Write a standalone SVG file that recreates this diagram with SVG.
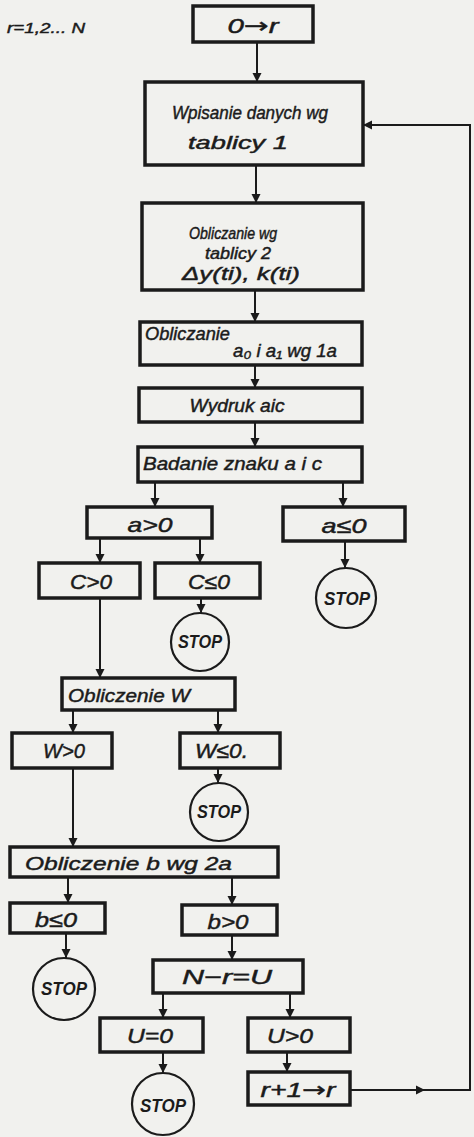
<svg xmlns="http://www.w3.org/2000/svg" width="474" height="1137" viewBox="0 0 474 1137">
<defs>
<style>
.box{fill:none;stroke:#1b1b1b;stroke-width:3.5}
.stop{fill:none;stroke:#1b1b1b;stroke-width:2.2}
.t{font-family:"Liberation Sans",Arial,sans-serif;font-style:italic;font-size:18px;fill:#1b1b1b;stroke:#1b1b1b;stroke-width:0.45}
.m{text-anchor:middle}
.big{font-size:21px}
.sm{font-size:16px}
.st{font-family:"Liberation Sans",Arial,sans-serif;font-style:italic;font-weight:bold;font-size:18px;fill:#1b1b1b;text-anchor:middle}
.c{fill:none;stroke:#1b1b1b;stroke-width:2}
</style>
<marker id="ah" viewBox="0 0 10 10" refX="10" refY="5" markerWidth="9" markerHeight="10" markerUnits="userSpaceOnUse" orient="auto">
<path d="M0,0 L10,5 L0,10 z" fill="#1b1b1b"/>
</marker>
</defs>
<rect width="474" height="1137" fill="#f1f1ee"/>
<text class="t" x="7" y="33" style="font-size:15px" textLength="78" lengthAdjust="spacingAndGlyphs">r=1,2... N</text>

<g id="connectors">
<line class="c" x1="257" y1="42" x2="257" y2="82" marker-end="url(#ah)"/>
<line class="c" x1="256" y1="165" x2="256" y2="203" marker-end="url(#ah)"/>
<line class="c" x1="255" y1="290" x2="255" y2="322" marker-end="url(#ah)"/>
<line class="c" x1="255" y1="365" x2="255" y2="388" marker-end="url(#ah)"/>
<line class="c" x1="255" y1="422" x2="255" y2="447" marker-end="url(#ah)"/>
<line class="c" x1="155" y1="482" x2="155" y2="507" marker-end="url(#ah)"/>
<line class="c" x1="343" y1="482" x2="343" y2="507" marker-end="url(#ah)"/>
<line class="c" x1="345" y1="541" x2="345" y2="568" marker-end="url(#ah)"/>
<line class="c" x1="100" y1="538" x2="100" y2="563" marker-end="url(#ah)"/>
<line class="c" x1="200" y1="538" x2="200" y2="563" marker-end="url(#ah)"/>
<line class="c" x1="201" y1="598" x2="201" y2="613" marker-end="url(#ah)"/>
<line class="c" x1="100" y1="598" x2="100" y2="678" marker-end="url(#ah)"/>
<line class="c" x1="73" y1="710" x2="73" y2="733" marker-end="url(#ah)"/>
<line class="c" x1="218" y1="710" x2="218" y2="733" marker-end="url(#ah)"/>
<line class="c" x1="218" y1="768" x2="218" y2="783" marker-end="url(#ah)"/>
<line class="c" x1="73" y1="768" x2="73" y2="847" marker-end="url(#ah)"/>
<line class="c" x1="68" y1="877" x2="68" y2="903" marker-end="url(#ah)"/>
<line class="c" x1="232" y1="877" x2="232" y2="905" marker-end="url(#ah)"/>
<line class="c" x1="66" y1="933" x2="66" y2="958" marker-end="url(#ah)"/>
<line class="c" x1="232" y1="935" x2="232" y2="960" marker-end="url(#ah)"/>
<line class="c" x1="163" y1="993" x2="163" y2="1018" marker-end="url(#ah)"/>
<line class="c" x1="290" y1="993" x2="290" y2="1018" marker-end="url(#ah)"/>
<line class="c" x1="163" y1="1052" x2="163" y2="1073" marker-end="url(#ah)"/>
<line class="c" x1="287" y1="1052" x2="287" y2="1072" marker-end="url(#ah)"/>
<line class="c" x1="350" y1="1090" x2="425" y2="1090" marker-end="url(#ah)"/>
<polyline class="c" points="424,1090 470,1090 470,125 363,125" marker-end="url(#ah)"/>
</g>

<g id="n0"><rect class="box" x="193" y="6" width="120" height="36"/><text class="t m big" x="253" y="33" textLength="51" lengthAdjust="spacingAndGlyphs">0<tspan style="font-family:'DejaVu Sans',sans-serif">→</tspan>r</text></g>
<g id="n1"><rect class="box" x="145" y="82" width="218" height="83"/><text class="t m" x="250" y="119" textLength="156" lengthAdjust="spacingAndGlyphs">Wpisanie danych wg</text><text class="t m" x="238" y="149" textLength="100" lengthAdjust="spacingAndGlyphs">tablicy 1</text></g>
<g id="n2"><rect class="box" x="142" y="203" width="221" height="87"/><text class="t m sm" x="233" y="239" textLength="88" lengthAdjust="spacingAndGlyphs">Obliczanie wg</text><text class="t m sm" x="238" y="259" textLength="66" lengthAdjust="spacingAndGlyphs">tablicy 2</text><text class="t m" x="241" y="280" textLength="118" lengthAdjust="spacingAndGlyphs">Δy(ti),  k(ti)</text></g>
<g id="n3"><rect class="box" x="140" y="322" width="222" height="43"/><text class="t" x="145" y="340" textLength="85" lengthAdjust="spacingAndGlyphs">Obliczanie</text><text class="t" x="233" y="357" textLength="104" lengthAdjust="spacingAndGlyphs">a₀ i a₁  wg 1a</text></g>
<g id="n4"><rect class="box" x="139" y="388" width="223" height="34"/><text class="t m" x="237" y="412" textLength="95" lengthAdjust="spacingAndGlyphs">Wydruk aic</text></g>
<g id="n5"><rect class="box" x="138" y="447" width="224" height="35"/><text class="t" x="143" y="470" textLength="179" lengthAdjust="spacingAndGlyphs">Badanie znaku  a i c</text></g>
<g id="n6"><rect class="box" x="87" y="507" width="125" height="31"/><text class="t m big" x="150" y="532" textLength="45" lengthAdjust="spacingAndGlyphs">a&gt;0</text></g>
<g id="n7"><rect class="box" x="283" y="507" width="122" height="34"/><text class="t m big" x="344" y="533" textLength="45" lengthAdjust="spacingAndGlyphs">a≤0</text></g>
<g id="s1"><circle class="stop" cx="346" cy="598" r="30"/><text class="st" x="347" y="605" textLength="46" lengthAdjust="spacingAndGlyphs">STOP</text></g>
<g id="n8"><rect class="box" x="39" y="563" width="101" height="35"/><text class="t m big" x="91" y="589" textLength="42" lengthAdjust="spacingAndGlyphs">C&gt;0</text></g>
<g id="n9"><rect class="box" x="155" y="563" width="105" height="35"/><text class="t m big" x="209" y="589" textLength="42" lengthAdjust="spacingAndGlyphs">C≤0</text></g>
<g id="s2"><circle class="stop" cx="200" cy="642" r="29"/><text class="st" x="200" y="648" textLength="44" lengthAdjust="spacingAndGlyphs">STOP</text></g>
<g id="n10"><rect class="box" x="62" y="678" width="173" height="32"/><text class="t" x="68" y="702" textLength="122" lengthAdjust="spacingAndGlyphs">Obliczenie  W</text></g>
<g id="n11"><rect class="box" x="12" y="733" width="100" height="35"/><text class="t m big" x="64" y="758" textLength="42" lengthAdjust="spacingAndGlyphs">W&gt;0</text></g>
<g id="n12"><rect class="box" x="180" y="733" width="100" height="35"/><text class="t big" x="195" y="758" textLength="53" lengthAdjust="spacingAndGlyphs">W≤0.</text></g>
<g id="s3"><circle class="stop" cx="219" cy="812" r="29"/><text class="st" x="219" y="818" textLength="44" lengthAdjust="spacingAndGlyphs">STOP</text></g>
<g id="n13"><rect class="box" x="10" y="847" width="268" height="30"/><text class="t" x="25" y="870" textLength="207" lengthAdjust="spacingAndGlyphs">Obliczenie b    wg 2a</text></g>
<g id="n14"><rect class="box" x="10" y="903" width="95" height="30"/><text class="t m big" x="56" y="927" textLength="42" lengthAdjust="spacingAndGlyphs">b≤0</text></g>
<g id="n15"><rect class="box" x="182" y="905" width="95" height="30"/><text class="t m big" x="228" y="929" textLength="41" lengthAdjust="spacingAndGlyphs">b&gt;0</text></g>
<g id="s4"><circle class="stop" cx="64" cy="989" r="31"/><text class="st" x="64" y="995" textLength="46" lengthAdjust="spacingAndGlyphs">STOP</text></g>
<g id="n16"><rect class="box" x="153" y="960" width="150" height="33"/><text class="t m big" x="227" y="984" textLength="90" lengthAdjust="spacingAndGlyphs">N−r=U</text></g>
<g id="n17"><rect class="box" x="100" y="1018" width="103" height="34"/><text class="t m big" x="150" y="1043" textLength="46" lengthAdjust="spacingAndGlyphs">U=0</text></g>
<g id="n18"><rect class="box" x="248" y="1018" width="102" height="34"/><text class="t m big" x="290" y="1043" textLength="46" lengthAdjust="spacingAndGlyphs">U&gt;0</text></g>
<g id="s5"><circle class="stop" cx="163" cy="1104" r="31"/><text class="st" x="163" y="1112" textLength="46" lengthAdjust="spacingAndGlyphs">STOP</text></g>
<g id="n19"><rect class="box" x="248" y="1072" width="102" height="33"/><text class="t m big" x="298" y="1097" textLength="75" lengthAdjust="spacingAndGlyphs">r+1<tspan style="font-family:'DejaVu Sans',sans-serif">→</tspan>r</text></g>
</svg>
